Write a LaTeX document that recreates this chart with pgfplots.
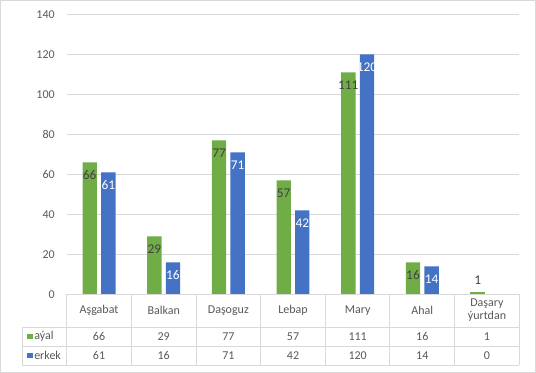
\documentclass[border=0pt]{standalone}
\usepackage{fontspec}
\setmainfont{Carlito}
\usepackage{pgfplots}
\pgfplotsset{compat=1.18}
\definecolor{cgreen}{HTML}{70AD47}
\definecolor{cblue}{HTML}{4472C4}
\definecolor{cgrid}{HTML}{D9D9D9}
\definecolor{ctext}{HTML}{595959}
\definecolor{clabel}{HTML}{404040}
\begin{document}
\begin{tikzpicture}
\begin{scope}[x=0.75pt,y=-0.75pt,shift={(-50.025pt,220.725pt)}]
  \path[use as bounding box] (0,0) rectangle (536,373);
  \fill[white] (0,0) rectangle (536,373);
  \draw[cgrid, line width=0.75pt] (0.5,0.5) rectangle (535.5,372.5);
\end{scope}
\begin{axis}[
  scale only axis, width=339.45pt, height=210pt,
  at={(0,0)}, anchor=south west,
  xmin=-0.5, xmax=6.5, ymin=0, ymax=140,
  ytick={0,20,...,140},
  xtick=\empty,
  axis line style={draw=none},
  ymajorgrids, grid style={cgrid, line width=0.75pt},
  major tick length=0pt,
  yticklabel style={font=\fontsize{9}{10}\selectfont, text=ctext, anchor=east, inner sep=0pt, xshift=-8.8pt},
  /pgf/number format/assume math mode=true,
  clip=false,
]
\addplot[ybar, bar width=0.222, bar shift=-0.144, fill=cgreen, draw=none,
  nodes near coords,
  every node near coord/.append style={anchor=center, xshift=-6.98pt, yshift=-9.75pt, inner sep=0pt, font=\fontsize{10}{11}\selectfont, text=clabel}]
  coordinates {(0,66) (1,29) (2,77) (3,57) (4,111) (5,16)};
\addplot[ybar, bar width=0.222, bar shift=-0.144, fill=cgreen, draw=none,
  nodes near coords,
  every node near coord/.append style={anchor=center, xshift=-6.98pt, yshift=8.7pt, inner sep=0pt, font=\fontsize{10}{11}\selectfont, text=clabel}]
  coordinates {(6,1)};
\addplot[ybar, bar width=0.222, bar shift=0.144, fill=cblue, draw=none,
  nodes near coords,
  every node near coord/.append style={anchor=center, xshift=6.98pt, yshift=-9.75pt, inner sep=0pt, font=\fontsize{10}{11}\selectfont, text=white}]
  coordinates {(0,61) (1,16) (2,71) (3,42) (4,120) (5,14)};
\end{axis}
\begin{scope}[x=0.75pt,y=-0.75pt,shift={(-50.025pt,220.725pt)}]
  \draw[cgrid, line width=0.75pt] (66.7,294.3) -- (519.3,294.3);
  \draw[cgrid, line width=0.75pt] (22.3,327.3) -- (519.3,327.3);
  \draw[cgrid, line width=0.75pt] (22.3,346.3) -- (519.3,346.3);
  \draw[cgrid, line width=0.75pt] (22.3,365.2) -- (519.3,365.2);
  \draw[cgrid, line width=0.75pt] (22.3,327.3) -- (22.3,365.2);
  \foreach \i in {0,...,7} {
    \draw[cgrid, line width=0.75pt] ({66.7+64.657*\i},294.3) -- ({66.7+64.657*\i},365.2);
  }
  \foreach \n [count=\i from 0] in {Aşgabat,Balkan,Daşoguz,Lebap,Mary,Ahal} {
    \node[font=\fontsize{9}{10}\selectfont, text=ctext, inner sep=0pt] at ({99.03+64.657*\i},310.8) {\n};
  }
  \node[font=\fontsize{9}{10}\selectfont, text=ctext, inner sep=0pt, align=center] at ({99.03+64.657*6},310.3) {Daşary\\ýurtdan};
  \foreach \v [count=\i from 0] in {66,29,77,57,111,16,1} {
    \node[font=\fontsize{9}{10}\selectfont, text=ctext, inner sep=0pt] at ({99.03+64.657*\i},336.8) {\v};
  }
  \foreach \v [count=\i from 0] in {61,16,71,42,120,14,0} {
    \node[font=\fontsize{9}{10}\selectfont, text=ctext, inner sep=0pt] at ({99.03+64.657*\i},355.6) {\v};
  }
  \fill[cgreen] (27.3,333.7) rectangle (32.8,339.3);
  \fill[cblue] (27.3,352.6) rectangle (32.8,358.2);
  \node[font=\fontsize{9}{10}\selectfont, text=ctext, inner sep=0pt, anchor=west] at (34.0,336.8) {aýal};
  \node[font=\fontsize{9}{10}\selectfont, text=ctext, inner sep=0pt, anchor=west] at (34.0,355.6) {erkek};
\end{scope}
\end{tikzpicture}
\end{document}
